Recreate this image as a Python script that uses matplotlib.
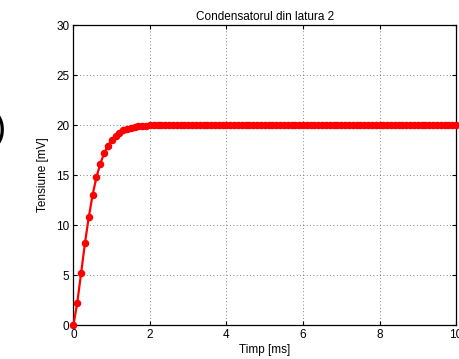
import matplotlib
matplotlib.use("Agg")
import matplotlib.pyplot as plt
import numpy as np

plt.rcParams["font.family"] = ["Liberation Sans", "DejaVu Sans"]

# time samples [ms], step 0.1
time_ms = np.round(np.arange(0, 101) * 0.1, 1)

# capacitor voltage [mV]
voltage_mv = [
    0.0, 2.23, 5.17, 8.17, 10.77, 13.0, 14.77, 16.1, 17.17, 17.93,
    18.5, 18.95, 19.25, 19.47, 19.62, 19.74, 19.82, 19.88, 19.92, 19.95,
    19.97, 19.98, 19.99, 20.0, 20.0, 20.0, 20.0, 20.0, 20.0, 20.0,
    20.0, 20.0, 20.0, 20.0, 20.0, 20.0, 20.0, 20.0, 20.0, 20.0,
    20.0, 20.0, 20.0, 20.0, 20.0, 20.0, 20.0, 20.0, 20.0, 20.0,
    20.0, 20.0, 20.0, 20.0, 20.0, 20.0, 20.0, 20.0, 20.0, 20.0,
    20.0, 20.0, 20.0, 20.0, 20.0, 20.0, 20.0, 20.0, 20.0, 20.0,
    20.0, 20.0, 20.0, 20.0, 20.0, 20.0, 20.0, 20.0, 20.0, 20.0,
    20.0, 20.0, 20.0, 20.0, 20.0, 20.0, 20.0, 20.0, 20.0, 20.0,
    20.0, 20.0, 20.0, 20.0, 20.0, 20.0, 20.0, 20.0, 20.0, 20.0,
    20.0,
]

x_ticks = [0, 2, 4, 6, 8, 10]
y_ticks = [0, 5, 10, 15, 20, 25, 30]

fig = plt.figure(figsize=(4.59, 3.59), dpi=100)
ax = fig.add_axes([0.160, 0.0947, 0.8335, 0.8353])

ax.plot(time_ms, voltage_mv, color="red", linewidth=1.6,
        marker="o", markersize=4.4, markeredgecolor="red",
        markerfacecolor="red", clip_on=False, zorder=3)

ax.set_xlim(0, 10)
ax.set_ylim(0, 30)
ax.set_xticks(x_ticks)
ax.set_yticks(y_ticks)
ax.tick_params(direction="in", length=3, width=0.8, labelsize=8.5,
               top=True, right=True, pad=3)
ax.grid(True, linestyle=(0, (1, 3)), color="#333333", linewidth=0.6, alpha=0.8)
for s in ax.spines.values():
    s.set_linewidth(0.9)

ax.set_title("Condensatorul din latura 2", fontsize=8.5, pad=4)
ax.set_xlabel("Timp [ms]", fontsize=8.5, labelpad=2)
ax.set_ylabel("Tensiune [mV]", fontsize=8.5, labelpad=5)

# cropped bracket on the left edge
fig.text(0.012, 0.64, ")", fontsize=26, ha="right", va="center")

fig.savefig("out.png", dpi=100)
